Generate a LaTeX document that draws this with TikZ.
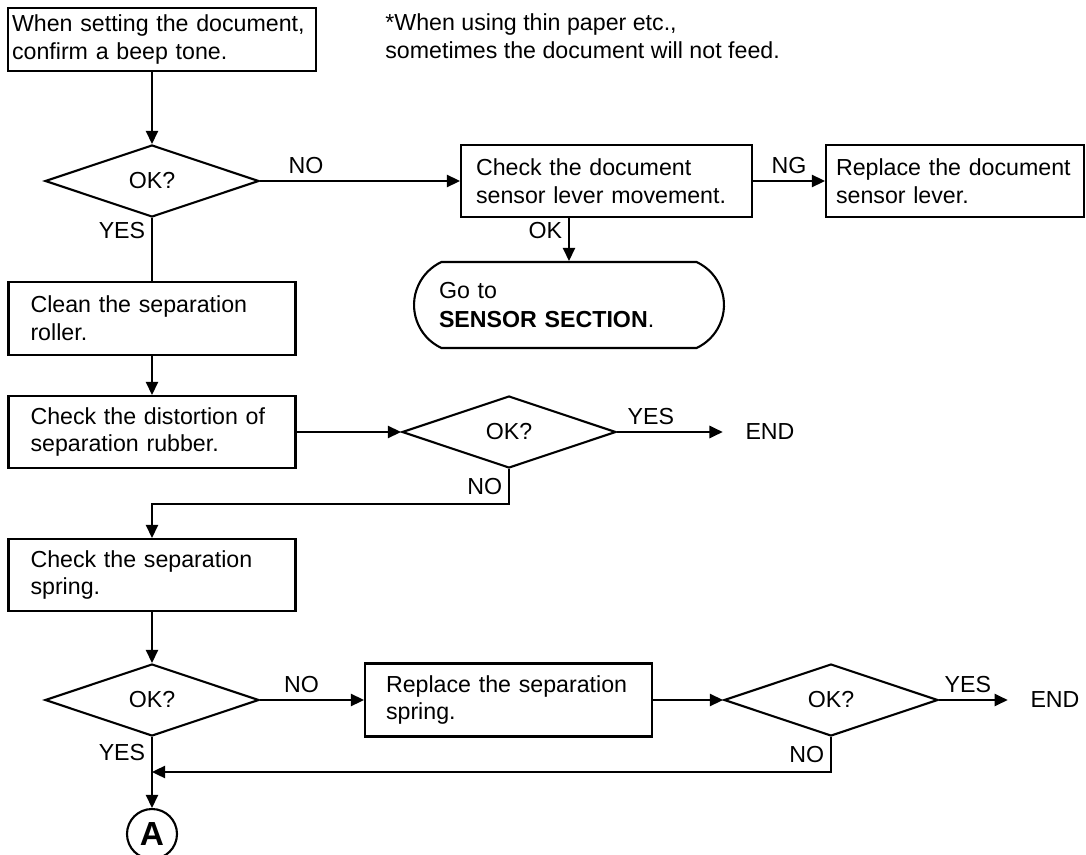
\documentclass[tikz,border=0pt]{standalone}
\usepackage{fontspec}
\setmainfont{Liberation Sans}
\usetikzlibrary{shapes.geometric, shapes.misc, arrows.meta, positioning}
\newcommand{\flowfont}{\fontsize{13.2}{15.9}\selectfont\hyphenpenalty=10000}

\begin{document}
\begin{tikzpicture}[
    x=0.02cm, y=-0.02cm,
    every node/.style={font=\flowfont},
    box/.style={rectangle, draw, line width=1.2pt, align=left, inner ysep=0pt},
    decision/.style={diamond, draw, line width=1.2pt, minimum width=4.28cm, minimum height=1.44cm, inner sep=0pt},
    terminal/.style={rounded rectangle, rounded rectangle arc length=130, draw, line width=1.2pt, align=left, inner xsep=0pt},
    endtxt/.style={inner xsep=0.45cm},
    arr/.style={-{Triangle[length=7.5pt, width=7pt]}, line width=1.1pt},
    plain/.style={line width=1.1pt},
]
    \useasboundingbox (0,0) rectangle (1086,855);

    % Start and note
    \node[box, minimum width=6.16cm, minimum height=1.26cm, text width=6.0cm, inner xsep=0.08cm] (start) at (162,39.5) {When setting the document,\\confirm a beep tone.};
    \node[anchor=north west, align=left, inner sep=0pt] (note) at (385,13) {*When using thin paper etc.,\\sometimes the document will not feed.};

    % First check
    \node[decision] (ok1) at (152,181) {OK?};
    \node[box, minimum width=5.82cm, minimum height=1.44cm, text width=5.22cm, inner xsep=0.3cm] (chk) at (606.5,181) {Check the document\\sensor lever movement.};
    \node[box, minimum width=5.16cm, minimum height=1.44cm, text width=4.76cm, inner xsep=0.2cm] (repl) at (955,181) {Replace the document\\sensor lever.};
    \node[terminal, minimum width=6.2cm, minimum height=1.72cm, text width=5.2cm] (sensor) at (569,305) {Go to\\[1pt]\textbf{SENSOR SECTION}.};

    % Separation roller and rubber
    \node[box, minimum width=5.74cm, minimum height=1.46cm, text width=4.86cm, inner xsep=0.44cm] (clean) at (152,318.5) {Clean the separation\\roller.};
    \node[box, minimum width=5.74cm, minimum height=1.44cm, text width=4.86cm, inner xsep=0.44cm] (dist) at (152,432) {Check the distortion of\\separation rubber.};
    \node[decision] (ok2) at (509,432) {OK?};
    \node[endtxt] (end1) at (770,432) {END};

    % Separation spring
    \node[box, minimum width=5.74cm, minimum height=1.44cm, text width=4.86cm, inner xsep=0.44cm] (spring) at (152,575) {Check the separation\\spring.};
    \node[decision] (ok3) at (152,700) {OK?};
    \node[box, minimum width=5.74cm, minimum height=1.46cm, text width=4.9cm, inner xsep=0.42cm] (rspr) at (508.5,700) {Replace the separation\\spring.};
    \node[decision] (ok4) at (831,700) {OK?};
    \node[endtxt] (end2) at (1055,700) {END};
    \coordinate (join) at (152,772);
    \node[circle, draw, line width=1.2pt, minimum size=1.0cm, inner sep=0pt, font=\bfseries\fontsize{19}{19}\selectfont] (ptA) at (152,834) {A};

    % Connectors
    \draw[arr] (ok1.north |- start.south) -- (ok1.north);
    \draw[arr] (ok1.east) -- node[above, pos=0.23] {NO} (chk.west);
    \draw[arr] (chk.east) -- node[above] {NG} (repl.west);
    \draw[arr] (sensor.north |- chk.south) -- node[left, pos=0.3] {OK} (sensor.north);
    \draw[plain] (ok1.south) -- node[left, pos=0.2] {YES} (clean.north);
    \draw[arr] (clean.south) -- (dist.north);
    \draw[arr] (dist.east) -- (ok2.west);
    \draw[arr] (ok2.east) -- node[above, pos=0.32] {YES} (end1.west);
    \draw[arr] (ok2.south) -- node[left] {NO} ++(0,35) -| (spring.north);
    \draw[arr] (spring.south) -- (ok3.north);
    \draw[arr] (ok3.east) -- node[above, pos=0.4] {NO} (rspr.west);
    \draw[arr] (rspr.east) -- (ok4.west);
    \draw[arr] (ok4.east) -- node[above, pos=0.42] {YES} (end2.west);
    \draw[arr] (ok4.south) |- node[left, pos=0.25] {NO} (join);
    \draw[arr] (ok3.south) -- node[left, pos=0.22] {YES} (ptA.north);
\end{tikzpicture}
\end{document}
